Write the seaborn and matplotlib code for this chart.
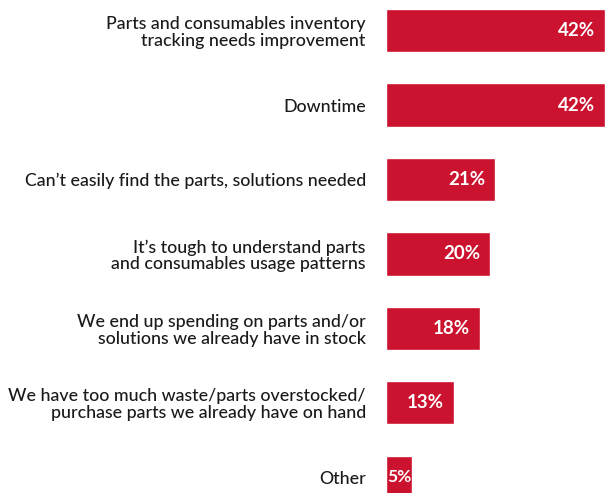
import matplotlib.pyplot as plt
import seaborn as sns
import pandas as pd

# 数据
categories = [
    "Parts and consumables inventory\ntracking needs improvement",
    "Downtime",
    "Can\u2019t easily find the parts, solutions needed",
    "It\u2019s tough to understand parts\nand consumables usage patterns",
    "We end up spending on parts and/or\nsolutions we already have in stock",
    "We have too much waste/parts overstocked/\npurchase parts we already have on hand",
    "Other",
]
values = [42, 42, 21, 20, 18, 13, 5]
bar_color = "#CB122E"

df = pd.DataFrame({"category": categories, "value": values})

sns.set_style("white")
plt.rcParams['font.family'] = ['Lato', 'DejaVu Sans']

fig = plt.figure(figsize=(6.10, 4.93), dpi=100)
ax = fig.add_axes([386 / 610, 0, 224 / 610, 1])

sns.barplot(data=df, x="value", y="category", orient="h", color=bar_color,
            saturation=1, width=0.58, ax=ax)

ax.set_xlim(0, 43)
ax.set_ylim(6.21, -0.41)
ax.set_xlabel("")
ax.set_ylabel("")
ax.set_xticks([])
for s in ax.spines.values():
    s.set_visible(False)

ax.tick_params(axis='y', length=0, pad=14.5)
for lab in ax.get_yticklabels():
    lab.set_fontsize(12.8)
    lab.set_fontweight('medium')
    lab.set_color("#1a1a1a")
    lab.set_multialignment("right")
    lab.set_linespacing(1.05)

# 数值标签
for i, v in enumerate(values):
    if v > 6:
        ax.text(v - 1.9, i, f"{v}%", ha='right', va='center', color='white',
                fontsize=13.5, fontweight='bold')
    else:
        ax.text(v / 2, i, f"{v}%", ha='center', va='center', color='white',
                fontsize=12.5, fontweight='bold')

plt.savefig("out.png", dpi=100)
